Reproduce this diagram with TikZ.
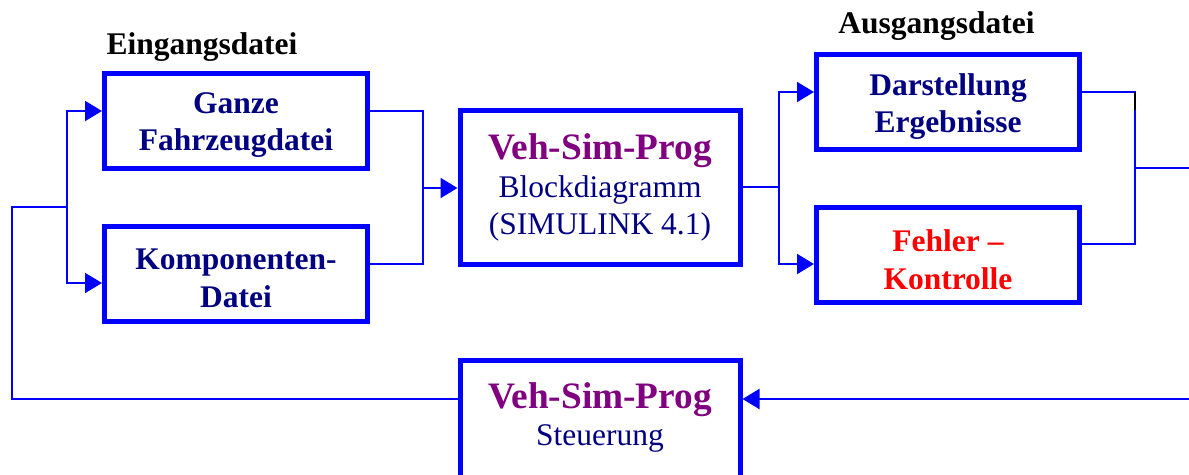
\documentclass[tikz,border=0pt]{standalone}
\usepackage{fontspec}
\setmainfont{Liberation Serif}
\usetikzlibrary{arrows.meta}
\definecolor{lineblue}{RGB}{0,0,255}
\definecolor{navytext}{RGB}{0,0,128}
\definecolor{vpurple}{RGB}{128,0,128}
\definecolor{errred}{RGB}{255,0,0}
\begin{document}
\begin{tikzpicture}[x=1pt,y=-1pt,
  box/.style={draw=lineblue, fill=white, line width=5pt, minimum width=263pt, minimum height=95pt, inner sep=0pt},
  boxtext/.style={inner sep=0pt, align=center, text=navytext, font=\fontsize{31.5}{37.5}\selectfont\bfseries},
  conn/.style={draw=lineblue, line width=2pt},
  arr/.style={conn, -{Triangle[length=17pt,width=20pt]}},
  lbl/.style={font=\fontsize{31.5}{38}\selectfont\bfseries, text=black, inner sep=0pt, anchor=base}]
\fill[white] (0,0) rectangle (1189,474);
\useasboundingbox (0,0) rectangle (1189,474);

% labels
\node[lbl] (ein) at (202,54) {Eingangsdatei};
\node[lbl] (aus) at (936.5,33) {Ausgangsdatei};

% boxes
\node[box] (ganze) at (236,120.5) {};
\node[boxtext] (ganzeT) at ([yshift=-4.5pt]ganze.center) {Ganze\\Fahrzeugdatei};
\node[box] (komp) at (236,274) {};
\node[boxtext] (kompT) at ([yshift=-4.5pt]komp.center) {Komponenten-\\Datei};
\node[box, minimum width=280pt, minimum height=154pt] (vsp) at (600,187.5) {};
\node[boxtext, font=\fontsize{31.5}{37.5}\selectfont] (vspT) at (vsp.center)
  {{\fontsize{37.3}{37.5}\selectfont\bfseries\color{vpurple}Veh-Sim-Prog}\\Blockdiagramm\\(SIMULINK 4.1)};
\node[box] (dar) at (948,102) {};
\node[boxtext] (darT) at ([yshift=-4.5pt]dar.center) {Darstellung\\Ergebnisse};
\node[box] (feh) at (948,255) {};
\node[boxtext, text=errred] (fehT) at ([yshift=-4.5pt]feh.center) {Fehler –\\Kontrolle};
\node[box, minimum width=280pt, minimum height=130pt] (bot) at (600,425.5) {};
\node[boxtext, font=\fontsize{31.5}{37}\selectfont] (bottxt) at (600,417)
  {{\fontsize{37.3}{37}\selectfont\bfseries\color{vpurple}Veh-Sim-Prog}\\Steuerung};

% coordinates
\coordinate (splitL) at (67,207);
\coordinate (fbL) at (12,399);
\coordinate (fbR) at (1189,399);
\coordinate (mergeL) at (423,188);
\coordinate (splitR) at (779,187);
\coordinate (mergeR) at (1135,168);
\coordinate (outR) at (1189,168);
\coordinate (tickA) at (1135,92);
\coordinate (tickB) at (1135,110);

% input side
\draw[arr] (splitL) |- ([yshift=9.5pt]ganze.west);
\draw[arr] (splitL) |- ([yshift=-9pt]komp.west);
\draw[conn] (bot.west |- fbR) -- (fbL) |- (splitL);
\draw[arr] (fbR) -- (bot.east |- fbR);

% merge into simulation
\draw[conn] ([yshift=9.5pt]ganze.east) -| (mergeL);
\draw[conn] ([yshift=10pt]komp.east) -| (mergeL);
\draw[arr] (mergeL) -- (vsp.west |- mergeL);

% output side
\draw[conn] (vsp.east |- splitR) -- (splitR);
\draw[arr] (splitR) |- ([yshift=10pt]dar.west);
\draw[arr] (splitR) |- ([yshift=-9pt]feh.west);
\draw[conn] ([yshift=10pt]dar.east) -| (mergeR);
\draw[conn] ([yshift=11pt]feh.east) -| (mergeR);
\draw[conn] (mergeR) -- (outR);
\draw[black, line width=2.5pt] (tickA) -- (tickB);
\end{tikzpicture}
\end{document}
